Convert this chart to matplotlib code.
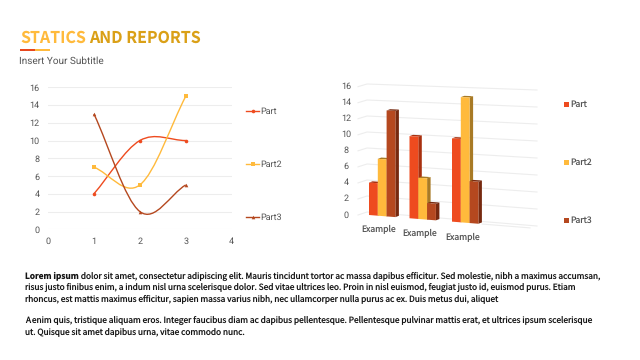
import matplotlib
matplotlib.use("Agg")
import matplotlib.pyplot as plt
import numpy as np
from matplotlib.path import Path
from matplotlib.patches import PathPatch, Polygon, Rectangle

plt.rcParams["text.hinting"] = "no_hinting"
plt.rcParams["text.hinting_factor"] = 1

CJK = "Noto Sans CJK SC"
BODY_FONT = CJK

# data
series_names = ["Part", "Part2", "Part3"]
line_x = [1, 2, 3]
part = [4, 10, 10]
part2 = [7, 5, 15]
part3 = [13, 2, 5]
series = [part, part2, part3]
value_ticks = [0, 2, 4, 6, 8, 10, 12, 14, 16]
x_ticks = [0, 1, 2, 3, 4]
categories = ["Example", "Example", "Example"]
title_a = "STATICS"
title_b = "AND REPORTS"
subtitle = "Insert Your Subtitle"
body_bold = "Lorem ipsum"
body_lines = [
    " dolor sit amet, consectetur adipiscing elit. Mauris tincidunt tortor ac massa dapibus efficitur. Sed molestie, nibh a maximus accumsan,",
    "risus justo finibus enim, a indum nisl urna scelerisque dolor. Sed vitae ultrices leo. Proin in nisl euismod, feugiat justo id, euismod purus. Etiam",
    "rhoncus, est mattis maximus efficitur, sapien massa varius nibh, nec ullamcorper nulla purus ac ex. Duis metus dui, aliquet",
    "A enim quis, tristique aliquam eros. Integer faucibus diam ac dapibus pellentesque. Pellentesque pulvinar mattis erat, et ultrices ipsum scelerisque",
    "ut. Quisque sit amet dapibus urna, vitae commodo nunc.",
]

RED = "#EE4B1F"
YELLOW = "#FFBA3C"
BROWN = "#B5481F"
RED_SIDE = "#A8300F"
YELLOW_SIDE = "#A87A25"
BROWN_SIDE = "#76290F"
colors = [RED, YELLOW, BROWN]
side_colors = [RED_SIDE, YELLOW_SIDE, BROWN_SIDE]
markers = ["o", "s", "^"]
TEXT = "#555555"
GRID = "#EDEDED"


def smooth_path(x, y):
    # catmull-rom style beziers, same look as office smoothed lines
    pts = np.column_stack([x, y]).astype(float)
    verts = [pts[0]]
    codes = [Path.MOVETO]
    n = len(pts)
    for i in range(n - 1):
        d0 = (pts[i + 1] - pts[i - 1]) / 6 if i > 0 else (pts[1] - pts[0]) / 3
        d1 = (pts[i + 2] - pts[i]) / 6 if i < n - 2 else (pts[-1] - pts[-2]) / 3
        verts += [pts[i] + d0, pts[i + 1] - d1, pts[i + 1]]
        codes += [Path.CURVE4] * 3
    return Path(verts, codes)


def wall_px(x, v):
    # back wall of the fake 3d chart, in canvas pixels
    base = 212 + (x - 367) * 14 / 170
    scale = 8.0 + (x - 367) * 0.5 / 170
    return base - v * scale


def front_px(x, v):
    # front plane the bars sit on
    base = 215 + (x - 369) * 0.08
    scale = 8.1 + (x - 369) * 0.0027
    return base - v * scale


fig = plt.figure(figsize=(6.4, 3.6), dpi=100, facecolor="white")
W, H = 640, 360

# full canvas layer in pixels, for the header, text and 3d chart
canvas = fig.add_axes([0, 0, 1, 1])
canvas.set_xlim(0, W)
canvas.set_ylim(H, 0)
canvas.axis("off")

t1 = canvas.text(20, 43, title_a, family=CJK, fontsize=11.5, color=YELLOW, weight="bold")
fig.canvas.draw()
renderer = fig.canvas.get_renderer()
t1_w = t1.get_window_extent(renderer).width
canvas.text(20 + t1_w + 3.5, 43, title_b, family=CJK, fontsize=11.5, color="#DAA017", weight="bold")
canvas.add_patch(Rectangle((20, 49.3), 15, 1.6, color="#E8481E", lw=0))
canvas.add_patch(Rectangle((35, 49.3), 15, 1.6, color=YELLOW, lw=0))
canvas.text(19, 64, subtitle, family="Roboto", fontsize=7.2, color="#555555")

# line chart
ax = fig.add_axes([48 / W, 1 - 229.3 / H, (231.7 - 48) / W, (229.3 - 87.3) / H])
ax.patch.set_alpha(0)
ax.set_xlim(0, 4)
ax.set_ylim(0, 16)
ax.set_xticks(x_ticks)
ax.set_yticks(value_ticks)
ax.tick_params(length=0, labelsize=6.6, labelcolor=TEXT, pad=6)
for lab in ax.get_xticklabels() + ax.get_yticklabels():
    lab.set_family("Roboto")
ax.grid(axis="y", color=GRID, lw=0.8)
ax.set_axisbelow(True)
for s in ax.spines.values():
    s.set_visible(False)
for vals, c, m in zip(series, colors, markers):
    ax.add_patch(PathPatch(smooth_path(line_x, vals), fc="none", ec=c, lw=1.0))
    ax.plot(line_x, vals, ls="none", marker=m, ms=2.6, color=c, mew=0)

for name, c, m, ly in zip(series_names, colors, markers, [111, 164, 217]):
    canvas.plot([246, 259], [ly, ly], color=c, lw=1.0)
    canvas.plot([252.5], [ly], marker=m, ms=2.6, color=c, mew=0)
    canvas.text(260, ly, name, family="Roboto", fontsize=6.4, color=TEXT, va="center")

# fake 3d bar chart
for v in value_ticks:
    y0 = 215 - v * 8.02
    canvas.text(346, y0, str(v), family="Roboto", fontsize=6.6, color=TEXT, ha="center", va="center")
    canvas.plot([358, 367, 537], [y0, wall_px(367, v), wall_px(537, v)], color=GRID, lw=0.8, zorder=1)
canvas.plot([482, 530], [front_px(482, 0), front_px(530, 0)], color=GRID, lw=0.8, zorder=1)

group_left = [369, 409.5, 452]
bar_w = 8.8
depth_x, depth_y = 3.5, 1.3
for g, left in enumerate(group_left):
    for s, vals in enumerate(series):
        xa = left + s * bar_w
        xb = xa + bar_w
        v = vals[g]
        z = 3 + g + s * 0.1
        front = [(xa, front_px(xa, 0)), (xb, front_px(xb, 0)), (xb, front_px(xb, v)), (xa, front_px(xa, v))]
        side = [(xb, front_px(xb, 0)), (xb + depth_x, front_px(xb, 0) - depth_y),
                (xb + depth_x, front_px(xb, v) - depth_y), (xb, front_px(xb, v))]
        cap = [(xa, front_px(xa, v)), (xb, front_px(xb, v)),
               (xb + depth_x, front_px(xb, v) - depth_y), (xa + depth_x, front_px(xa, v) - depth_y)]
        canvas.add_patch(Polygon(side, fc=side_colors[s], lw=0, zorder=z))
        canvas.add_patch(Polygon(cap, fc=side_colors[s], lw=0, zorder=z))
        canvas.add_patch(Polygon(front, fc=colors[s], lw=0, zorder=z + 0.01))

for name, cx, cy in zip(categories, [379, 420, 463], [229, 233, 237]):
    canvas.text(cx, cy, name, family=CJK, fontsize=6.2, color=TEXT, ha="center", va="center")

for name, c, ly in zip(series_names, colors, [104, 162, 220.5]):
    canvas.add_patch(Rectangle((563.5, ly - 2.5), 5, 5, color=c, lw=0))
    canvas.text(570, ly, name, family=CJK, fontsize=6.2, color=TEXT, va="center")

# body text
body_y = [278.5, 289.5, 301, 323, 335]
BODY = "#151515"
BODY_SIZE = 6.0
bold = canvas.text(25, body_y[0], body_bold, family=BODY_FONT, fontsize=BODY_SIZE, weight="bold", color=BODY)
bold_w = bold.get_window_extent(renderer).width
canvas.text(25 + bold_w, body_y[0], body_lines[0], family=BODY_FONT, fontsize=BODY_SIZE, color=BODY)
for line, y in zip(body_lines[1:], body_y[1:]):
    canvas.text(25, y, line, family=BODY_FONT, fontsize=BODY_SIZE, color=BODY)

fig.savefig("out.png", dpi=100, facecolor="white")
